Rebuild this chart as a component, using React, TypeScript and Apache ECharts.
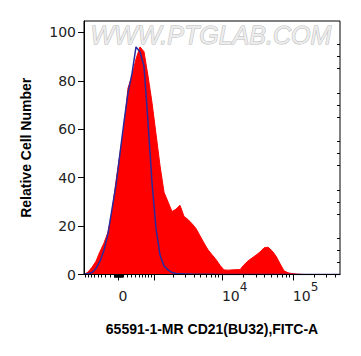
import React, { useEffect, useRef } from 'react';
import * as echarts from 'echarts';

// Histogram bins in display channels (0..256 across the plot)
const channels = [
  0, 4, 8, 12, 16, 20, 24, 28, 32, 36, 40, 44, 48, 52, 56, 60, 64, 68, 72, 76,
  80, 84, 88, 92, 96, 100, 104, 108, 112, 116, 120, 124, 128, 132, 136, 140, 144, 148, 152, 156,
  160, 164, 168, 172, 176, 180, 184, 188, 192, 196, 200, 204, 208, 212, 216, 220, 224, 228, 232, 236,
  240, 244, 248, 252, 256,
];

// CD21 stained sample (red filled)
const cd21 = [
  0, 1, 3, 5.5, 9.5, 13, 17.5, 26, 38.5, 50, 61, 77, 82, 89, 94, 92, 82, 71, 58, 45,
  34, 30, 26, 27, 28.6, 24, 22.7, 21, 19, 16, 13, 10.2, 8.2, 6.2, 3.8, 1.9, 1.8, 1.9, 2.0, 2.0,
  4.0, 5.6, 6.8, 8.0, 9.3, 11.0, 11.3, 9.8, 7.6, 4.5, 1.5, 0.7, 0.4, 0.2, 0.1, 0, 0, 0, 0, 0,
  0, 0, 0, 0, 0,
];

// Isotype control (blue line)
const isotype = [
  0.3, 0.3, 0.8, 2.5, 5.5, 10, 17, 27, 37, 50, 63, 75, 83, 94, 92, 86, 63, 38, 19, 8,
  3.5, 1.9, 0.8, 0.4, 0.3, 0.2, 0.2, 0.1, 0.1, 0.1, 0.1, 0.1, 0.1, 0, 0, 0, 0, 0, 0, 0,
  0, 0, 0, 0, 0, 0, 0, 0, 0, 0, 0, 0, 0, 0, 0, 0, 0, 0, 0, 0,
  0, 0, 0, 0, 0,
];

const yTicks = [0, 20, 40, 60, 80, 100];
const yMinorTicks = [5, 10, 15, 25, 30, 35, 45, 50, 55, 65, 70, 75, 85, 90, 95];

const xLabelValues = [0, 10000, 100000];
const xLabelExponents = [null, '4', '5'];
const xMajorValues = [0, 1000, 10000, 100000];
const xMinorValues = [
  -900, -800, -700, -600, -500, -400, -300, -200, -100,
  -90, -80, -70, -60, -50, -40, -30, -20, -10,
  10, 20, 30, 40, 50, 60, 70, 80, 90,
  100, 200, 300, 400, 500, 600, 700, 800, 900,
  2000, 3000, 4000, 5000, 6000, 7000, 8000, 9000,
  20000, 30000, 40000, 50000, 60000, 70000, 80000, 90000,
  200000, 300000, 400000,
];

// biexponential-like display transform (value -> channel)
const Z = 34.5;
const K = 71;
const W = 700;
const toChannel = (v: number) => Z + (K * Math.asinh(v / W)) / Math.LN10;

export default function App() {
  const ref = useRef<HTMLDivElement>(null);
  useEffect(() => {
    const chart = echarts.init(ref.current!, null, { renderer: 'svg' });
    const font = 'DejaVu Sans';
    const major = xMajorValues.map(toChannel);
    const minor = xMinorValues.map(toChannel).filter((c) => c >= 0 && c <= 256);
    const labelPos = xLabelValues.map(toChannel);
    const fmtX = (v: number) => {
      let best = 0;
      let d = 1e9;
      labelPos.forEach((p, i) => {
        if (Math.abs(p - v) < d) {
          d = Math.abs(p - v);
          best = i;
        }
      });
      const e = xLabelExponents[best];
      return e === null ? '{b|0}' : `{b|10}{s|${e}}`;
    };
    const titleStyle = {
      fontFamily: 'Liberation Sans',
      fontWeight: 'bold',
      fontSize: 14,
      color: '#000',
    };
    chart.setOption({
      animation: false,
      backgroundColor: '#fff',
      grid: {
        left: 84,
        right: 21,
        top: 21,
        bottom: 81.5,
        show: true,
        borderColor: '#000',
        borderWidth: 1,
        backgroundColor: '#fff',
        outerBoundsMode: 'none',
      },
      xAxis: [
        {
          type: 'value',
          min: 0,
          max: 256,
          position: 'bottom',
          z: 10,
          axisLine: { show: true, onZero: false, lineStyle: { color: '#000', width: 1 } },
          axisTick: { show: true, customValues: major, length: 6, lineStyle: { color: '#000' } },
          axisLabel: {
            customValues: labelPos,
            formatter: fmtX,
            align: 'left',
            margin: 6,
            color: '#222',
            rich: {
              b: { fontFamily: font, fontSize: 14, color: '#222', padding: [8, 0, 0, 0] },
              s: { fontFamily: font, fontSize: 12, color: '#222', verticalAlign: 'top' },
            },
          },
          splitLine: { show: false },
          name: '65591-1-MR CD21(BU32),FITC-A',
          nameLocation: 'middle',
          nameGap: 47,
          nameTextStyle: titleStyle,
        },
        {
          type: 'value',
          min: 0,
          max: 256,
          position: 'top',
          offset: -253.5,
          z: 10,
          axisLine: { show: false },
          axisTick: { show: true, inside: true, customValues: minor, length: 3, lineStyle: { color: '#000' } },
          axisLabel: { show: false },
          splitLine: { show: false },
        },
      ],
      yAxis: [
        {
          type: 'value',
          min: 0,
          max: 104.7,
          position: 'left',
          z: 10,
          axisLine: { show: true, onZero: false, lineStyle: { color: '#000', width: 1 } },
          axisTick: { show: true, customValues: yTicks, length: 6, lineStyle: { color: '#000' } },
          axisLabel: { customValues: yTicks, margin: 8, fontFamily: font, fontSize: 14, color: '#222' },
          splitLine: { show: false },
          name: 'Relative Cell Number',
          nameLocation: 'middle',
          nameGap: 51,
          nameTextStyle: titleStyle,
        },
        {
          type: 'value',
          min: 0,
          max: 104.7,
          position: 'right',
          offset: -256,
          z: 10,
          axisLine: { show: false },
          axisTick: { show: true, inside: true, customValues: yMinorTicks, length: 3, lineStyle: { color: '#000' } },
          axisLabel: { show: false },
          splitLine: { show: false },
        },
      ],
      graphic: [
        {
          type: 'text',
          left: 90,
          top: 22,
          z: 100,
          style: {
            text: 'WWW.PTGLAB.COM',
            fontFamily: 'Liberation Sans',
            fontStyle: 'italic',
            fontSize: 25,
            fill: '#ececec',
            stroke: '#b8b8b8',
            lineWidth: 1,
          },
        },
      ],
      series: [
        {
          type: 'line',
          xAxisIndex: 0,
          yAxisIndex: 0,
          data: cd21.map((y, i) => [channels[i], y]),
          showSymbol: false,
          symbol: 'none',
          lineStyle: { color: '#ff0000', width: 1 },
          areaStyle: { color: '#ff0000', opacity: 1 },
          z: 2,
        },
        {
          type: 'line',
          xAxisIndex: 0,
          yAxisIndex: 0,
          data: isotype.map((y, i) => [channels[i], y]),
          showSymbol: false,
          symbol: 'none',
          lineStyle: { color: '#2a2a9c', width: 1.5 },
          z: 3,
        },
      ],
    });
    return () => chart.dispose();
  }, []);
  return (
    <div
      ref={ref}
      style={{ position: 'fixed', left: 0, top: 0, width: 361, height: 356, background: '#fff' }}
    />
  );
}
